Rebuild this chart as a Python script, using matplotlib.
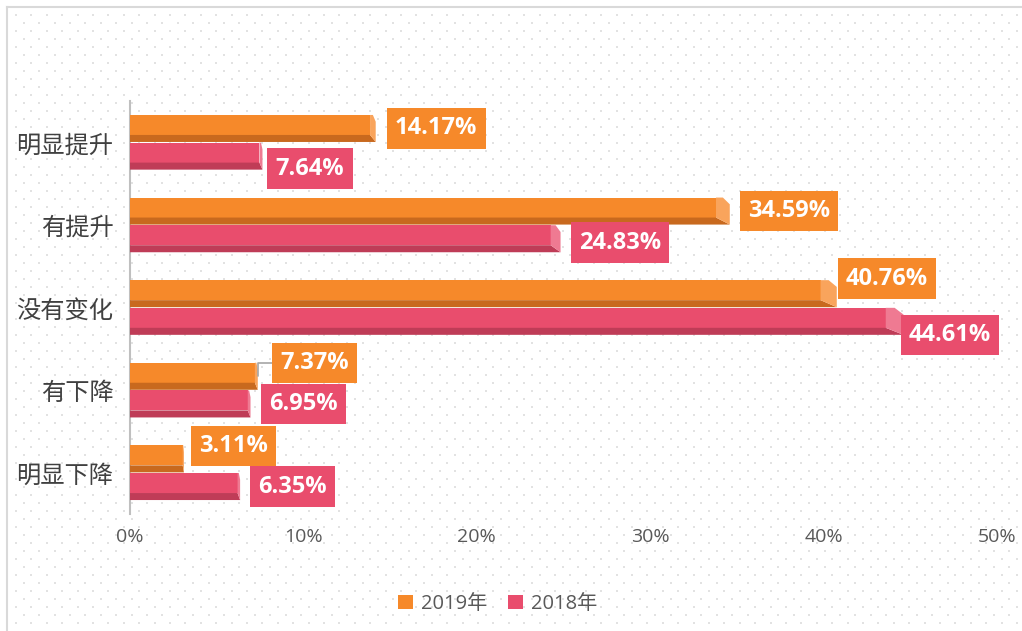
import numpy as np
import matplotlib
matplotlib.use("Agg")
import matplotlib.pyplot as plt
from matplotlib.patches import Polygon, Patch

# ---------------- data ----------------
categories = ["明显提升", "有提升", "没有变化", "有下降", "明显下降"]
series_names = ["2019年", "2018年"]
values_2019 = [14.17, 34.59, 40.76, 7.37, 3.11]
values_2018 = [7.64, 24.83, 44.61, 6.95, 6.35]
xticks = [0, 10, 20, 30, 40, 50]
xtick_labels = ["0%", "10%", "20%", "30%", "40%", "50%"]

# ---------------- style ----------------
W, H = 1022, 631
DPI = 100
main_colors = ["#F6892A", "#E94D6D"]
dark_colors = ["#C8691E", "#BF3C57"]
cap_colors = ["#F9A45C", "#EF7A92"]
# label placement (pixels): box-left offset from bar end, vertical shift (down +)
label_dx = [[11, 10, 1, 14, 7], [5, 10, -3, 10, 10]]
label_dy = [[0, 0, -15, -13.5, -13], [12.5, 4, 13.5, 0, 0]]
leader = [[False, False, False, True, False], [False] * 5]
LABEL_FS = 17
LABEL_PAD = 0.35

fig = plt.figure(figsize=(W / DPI, H / DPI), dpi=DPI)
fig.patch.set_facecolor("white")

# background dotted pattern
bg = fig.add_axes([0, 0, 1, 1], zorder=-10)
bg.set_xlim(0, W)
bg.set_ylim(H, 0)
bg.axis("off")
xs, ys = [], []
row = 0
yy = 15.0
while yy < H:
    off = 0 if row % 2 == 0 else 7.7
    xx = np.arange(16 + off, W, 15.4)
    xs.extend(xx)
    ys.extend([yy] * len(xx))
    yy += 8.0
    row += 1
bg.scatter(xs, ys, s=1.3, marker="s", color="#e2e2e2", linewidths=0)
bg.plot([7, 7], [7, H], color="#d9d9d9", lw=1.5)
bg.plot([7, W], [7, 7], color="#d9d9d9", lw=1.5)

ax = fig.add_axes([130 / W, 1 - 514 / H, (997 - 130) / W, (514 - 101) / H])
ax.patch.set_alpha(0)
ax.set_xlim(0, 50)
ax.set_ylim(4.5, -0.5)

bh = 0.327
gap = 0.004

for s, vals in enumerate([values_2019, values_2018]):
    for i, v in enumerate(vals):
        if s == 0:
            top = i - gap - bh
        else:
            top = i + gap
        bottom = top + bh
        d = 0.023 * v
        vf = v - d
        face_h = 0.74 * bh
        ax.barh(top, vf, height=face_h, align="edge", color=main_colors[s],
                linewidth=0, zorder=3)
        ax.add_patch(Polygon([(0, top + face_h), (vf, top + face_h), (v, bottom), (0, bottom)],
                             closed=True, facecolor=dark_colors[s], edgecolor="none", zorder=3))
        ax.add_patch(Polygon([(vf, top), (vf + 0.5 * d, top), (v, top + 0.25 * bh),
                              (v, bottom), (vf, top + face_h)],
                             closed=True, facecolor=cap_colors[s], edgecolor="none", zorder=3))
        center = top + bh / 2
        pad_px = LABEL_PAD * LABEL_FS * DPI / 72
        kw = {}
        if leader[s][i]:
            kw["arrowprops"] = dict(arrowstyle="-", color="#a6a6a6", lw=1.2,
                                    connectionstyle="angle,angleA=180,angleB=90,rad=0",
                                    shrinkA=0, shrinkB=0)
        ax.annotate(f"{v:.2f}%", xy=(v, center),
                    xytext=(label_dx[s][i] + pad_px, -label_dy[s][i]),
                    textcoords="offset pixels", ha="left", va="center",
                    fontsize=LABEL_FS, fontweight="bold", family="Open Sans", color="white",
                    bbox=dict(boxstyle=f"square,pad={LABEL_PAD}", facecolor=main_colors[s],
                              edgecolor="none"),
                    zorder=5, **kw)

ax.set_yticks(range(len(categories)))
ax.set_yticklabels(categories, family=["Noto Sans CJK SC", "DejaVu Sans"],
                   fontsize=17.5, color="#404040")
ax.set_xticks(xticks)
ax.set_xticklabels(xtick_labels, family="Open Sans", fontsize=14, color="#595959")
ax.tick_params(axis="both", length=0)
ax.tick_params(axis="x", pad=10)
ax.tick_params(axis="y", pad=12)
for sp in ["top", "right", "bottom"]:
    ax.spines[sp].set_visible(False)
ax.spines["left"].set_color("#bfbfbf")
ax.spines["left"].set_linewidth(1.5)

handles = [Patch(facecolor=main_colors[0], edgecolor="none"),
           Patch(facecolor=main_colors[1], edgecolor="none")]
leg = fig.legend(handles, series_names, loc="center", ncol=2,
                 bbox_to_anchor=(0.487, 1 - 604 / H), frameon=False,
                 handlelength=0.75, handleheight=0.75, handletextpad=0.4,
                 columnspacing=1.0,
                 prop={"family": ["Open Sans", "Noto Sans CJK SC"], "size": 14.5})
for t in leg.get_texts():
    t.set_color("#595959")

fig.savefig("out.png", dpi=DPI)
